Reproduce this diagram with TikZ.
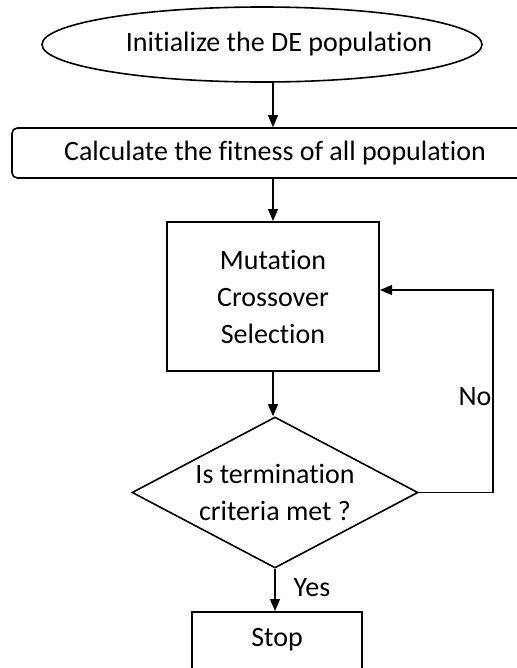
\documentclass[tikz,border=0pt]{standalone}
\usepackage{fontspec}
\setmainfont{Carlito}[Ligatures=NoCommon]
\usetikzlibrary{arrows.meta,shapes.geometric}

\begin{document}
\begin{tikzpicture}[x=0.75pt,y=-0.75pt,
		every node/.style={font=\fontsize{21}{27.75}\selectfont},
		box/.style={draw,line width=1.2pt,inner sep=0pt,align=center},
		flow/.style={line width=0.9pt,-{Triangle[length=9pt,width=7.5pt]}}]
			\useasboundingbox (0,0) rectangle (517,668);
			\clip (0,0) rectangle (517,668);
			% blocks
			\node[box,ellipse,minimum width=330pt,minimum height=56.25pt] (init) at (262,44.5) {\makebox[0pt]{\hspace{25.5pt}Initialize the DE population}};
			\node[box,rounded corners=4pt,minimum width=394.5pt,minimum height=37.5pt] (calc) at (275,153) {Calculate the fitness of all population};
			\node[box,line width=1.5pt,minimum width=159pt,minimum height=111.75pt] (ops) at (273,296.5) {Mutation\\Crossover\\Selection};
			\node[box,diamond,aspect=1.9,minimum width=214.5pt,minimum height=113.25pt] (check) at (275,492.5) {Is termination\\criteria met ?};
			\node[box,anchor=north,minimum width=127.5pt,text height=26.25pt,text depth=45pt] (stop) at (277,611) {Stop};
			% arrows
			\coordinate (bend) at (493,290);
			\draw[flow] (init.south -| ops.north) -- (calc.north -| ops.north);
			\draw[flow] (calc.south -| ops.north) -- (ops.north);
			\draw[flow] (ops.south) -- (ops.south |- check.north);
			\draw[flow] (check.south) -- (check.south |- stop.north);
			\draw[flow] (check.east) -| (bend) -- (ops.east |- bend);
			% labels
			\node (no) at (475,397) {No};
			\node (yes) at (312,588) {Yes};
		\end{tikzpicture}
\end{document}
